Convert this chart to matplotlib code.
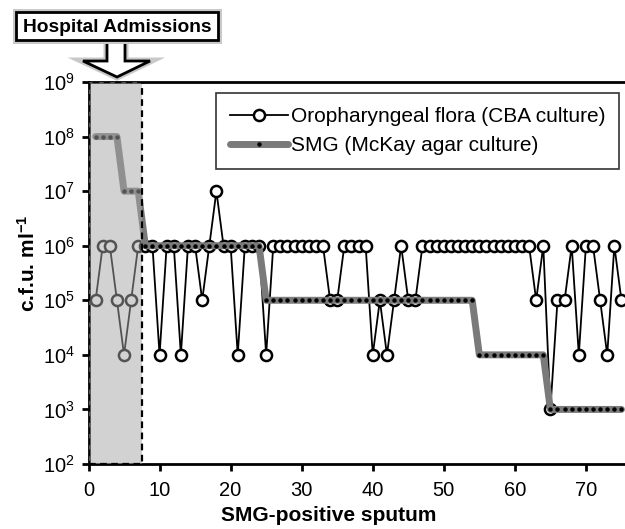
"""
SMG-positive sputum counts: oropharyngeal flora vs SMG culture.
"""

import numpy as np
import matplotlib
matplotlib.use('Agg')
import matplotlib.pyplot as plt
import matplotlib.patheffects as pe
from matplotlib.patches import Rectangle, Polygon
from matplotlib.ticker import FixedLocator, LogFormatterSciNotation

plt.rcParams['font.family'] = ['Liberation Sans', 'DejaVu Sans']
plt.rcParams['mathtext.fontset'] = 'custom'
plt.rcParams['mathtext.rm'] = 'Liberation Sans'
plt.rcParams['mathtext.it'] = 'Liberation Sans:italic'
plt.rcParams['mathtext.bf'] = 'Liberation Sans:bold'

# sputum sample number
sputum = np.arange(1, 76)

# log10 c.f.u. per ml, oropharyngeal flora (CBA culture)
cba_log10 = [
    5, 6, 6, 5, 4, 5, 6,
    6, 6, 4, 6, 6, 4, 6, 6,
    5, 6, 7, 6, 6, 4, 6, 6, 6, 4,
    6, 6, 6, 6, 6, 6, 6, 6,
    5, 5,
    6, 6, 6, 6,
    4, 5, 4, 5, 6, 5, 5,
    6, 6, 6, 6, 6, 6, 6, 6, 6, 6, 6, 6, 6, 6, 6, 6,
    5, 6, 3, 5, 5, 6, 4, 6, 6, 5, 4, 6, 5,
]

# log10 c.f.u. per ml, SMG (McKay agar culture)
smg_log10 = [
    8, 8, 8, 8,
    7, 7, 7,
    6, 6, 6, 6, 6, 6, 6, 6, 6, 6, 6, 6, 6, 6, 6, 6, 6,
    5, 5, 5, 5, 5, 5, 5, 5, 5, 5, 5, 5, 5, 5, 5,
    5, 5, 5, 5, 5, 5, 5, 5, 5, 5, 5, 5, 5, 5, 5,
    4, 4, 4, 4, 4, 4, 4, 4, 4, 4,
    3, 3, 3, 3, 3, 3, 3, 3, 3, 3, 3,
]

admission_end = 7.5
x_ticks = [0, 10, 20, 30, 40, 50, 60, 70]
y_ticks = [1e2, 1e3, 1e4, 1e5, 1e6, 1e7, 1e8, 1e9]

cba = 10.0 ** np.array(cba_log10)
smg = 10.0 ** np.array(smg_log10)

W, H = 625, 529
fig = plt.figure(figsize=(W / 100, H / 100), dpi=100)
ax = fig.add_axes([88.5 / W, 1 - 464 / H, 536.5 / W, 382 / H])

ax.plot(sputum, cba, '-o', color='black', lw=1.3, ms=8, mew=1.8,
        mfc='white', mec='black', zorder=2,
        label='Oropharyngeal flora (CBA culture)')
ax.plot(sputum, smg, '-o', color='#7a7a7a', lw=5, ms=3.2, mfc='black',
        mec='black', mew=0, zorder=3, solid_capstyle='round',
        label='SMG (McKay agar culture)')

# admission period shading
ax.add_patch(Rectangle((0, 1e2), admission_end, 1e9 - 1e2, facecolor='#a6a6a6',
                       alpha=0.5, edgecolor='none', zorder=4))
ax.add_patch(Rectangle((0, 1e2), admission_end, 1e9 - 1e2, facecolor='none',
                       edgecolor='black', ls=(0, (3, 2)), lw=1.6, zorder=5))

ax.set_yscale('log')
ax.set_ylim(1e2, 1e9)
ax.set_xlim(0, 75.5)
ax.yaxis.set_major_locator(FixedLocator(y_ticks))
ax.yaxis.set_major_formatter(LogFormatterSciNotation())
ax.yaxis.set_minor_locator(plt.NullLocator())
ax.set_xticks(x_ticks)

for side in ['left', 'bottom', 'top']:
    ax.spines[side].set_linewidth(2)
ax.spines['right'].set_visible(False)
ax.tick_params(axis='both', direction='out', length=5, width=2, pad=5)
ax.tick_params(axis='x', labelsize=14.5, pad=7)
ax.tick_params(axis='y', labelsize=14.5, pad=5)

ax.set_xlabel('SMG-positive sputum', fontsize=15, fontweight='bold')
ax.xaxis.set_label_coords(0.448, -0.109)
ax.set_ylabel(r'c.f.u. ml$^{\mathbf{-1}}$', fontsize=15, fontweight='bold')
ax.yaxis.label.set_va('center')
ax.yaxis.set_label_coords(-0.113, 0.526)

leg = ax.legend(loc='upper right', bbox_to_anchor=(0.989, 0.97), borderaxespad=0,
                fontsize=15, fancybox=False, framealpha=1, edgecolor='#333333',
                handlelength=2.8, handletextpad=0.15, labelspacing=0.5,
                borderpad=0.65)
leg.get_frame().set_linewidth(1.2)
leg.set_zorder(6)


def fpx(x, y):
    return (x / W, 1 - y / H)


glow = [pe.withStroke(linewidth=5, foreground='#c8c8c8')]

arrow_pts = [fpx(107, 38), fpx(125, 38), fpx(125, 61), fpx(150, 61),
             fpx(117, 77), fpx(83, 61), fpx(107, 61)]
arrow = Polygon(arrow_pts, closed=True, transform=fig.transFigure,
                facecolor='white', edgecolor='black', lw=2, zorder=7)
arrow.set_path_effects(glow)
fig.patches.append(arrow)

x0, y0 = fpx(16, 40)
x1, y1 = fpx(218, 12)
box = Rectangle((x0, y0), x1 - x0, y1 - y0, transform=fig.transFigure,
                facecolor='white', edgecolor='black', lw=2, zorder=8)
box.set_path_effects(glow)
fig.patches.append(box)
fig.text(*fpx(117, 27), 'Hospital Admissions', ha='center', va='center',
         fontsize=13.8, fontweight='bold', zorder=9)

fig.savefig('out.png', dpi=100)
